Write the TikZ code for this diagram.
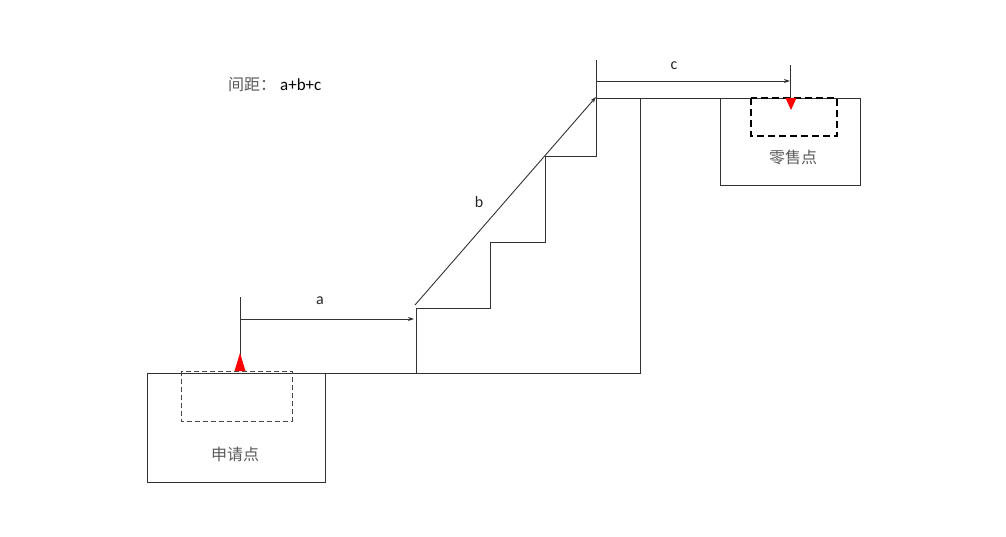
\documentclass[tikz,border=0pt]{standalone}
\usepackage{fontspec}
\setmainfont{Carlito}
\newfontfamily\cjk{Noto Sans CJK SC}
\usetikzlibrary{arrows.meta}
\definecolor{ln}{RGB}{50,50,50}
\definecolor{tx}{RGB}{90,90,90}
\tikzset{
  edge/.style={draw=ln, line width=0.9pt},
  dim/.style={draw=ln, line width=0.9pt, -{Stealth[length=6pt,width=4pt]}},
  dbox/.style={draw=ln!90, line width=0.9pt, dash pattern=on 5pt off 3pt},
  dboxb/.style={draw=black, line width=1.8pt, dash pattern=on 7pt off 4pt},
  lbl/.style={font=\fontsize{16}{18}\selectfont, text=black!85},
  cn/.style={font=\cjk\fontsize{16}{18}\selectfont, text=tx},
  redtri/.style={fill=red, draw=none}
}
\begin{document}
\begin{tikzpicture}[x=1pt,y=-1pt]
\useasboundingbox (0,0) rectangle (1006,537);
% left box
\draw[edge] (147,373) rectangle (325,482);
\node[cn] (shen) at (235,454) {申请点};
\draw[dbox] (181,371) rectangle (292,421);
% right box
\draw[edge] (720,98) rectangle (860,185);
\node[cn] (ling) at (793,157) {零售点};
\draw[dboxb] (751,98) rectangle (837,136);
% ground and steps
\coordinate (g0) at (325,373);
\coordinate (g1) at (640,373);
\coordinate (s0) at (416,373);
\coordinate (s1) at (416,308);
\coordinate (s2) at (490,308);
\coordinate (s3) at (490,242);
\coordinate (s4) at (545,242);
\coordinate (s5) at (545,156);
\coordinate (s6) at (596,156);
\coordinate (s7) at (596,60);
\draw[edge] (g0) -- (g1) -- (640,98);
\draw[edge] (s0) -- (s1) -- (s2) -- (s3) -- (s4) -- (s5) -- (s6) -- (s7);
\coordinate (t0) at (596,98);
\coordinate (t1) at (720,98);
\draw[edge] (t0) -- (t1);
% a
\coordinate (av0) at (240,297);
\coordinate (av1) at (240,371);
\draw[edge] (av0) -- (av1);
\coordinate (a0) at (240,319);
\coordinate (a1) at (414,319);
\draw[dim] (a0) -- (a1);
\node[lbl] (la) at (320,301) {a};
% b
\coordinate (b0) at (415,305);
\coordinate (b1) at (596,97);
\draw[dim] (b0) -- (b1);
\node[lbl] (lb) at (479,202) {b};
% c
\coordinate (c0) at (596,81);
\coordinate (c1) at (790,81);
\draw[dim] (c0) -- (c1);
\coordinate (cv0) at (790,65);
\coordinate (cv1) at (790,98);
\draw[edge] (cv0) -- (cv1);
\node[lbl] (lc) at (674,66) {c};
% red triangles
\fill[redtri] (240,353) -- (234.5,371) -- (245.5,371) -- cycle;
\fill[redtri] (791,110) -- (785.5,98) -- (796.5,98) -- cycle;
% title
\node[anchor=west, inner sep=0pt] (title) at (228,85) {{\cjk\fontsize{16}{18}\selectfont\color{tx}间距：}\hspace{4pt}{\fontsize{17}{19}\selectfont a+b+c}};
\end{tikzpicture}
\end{document}
